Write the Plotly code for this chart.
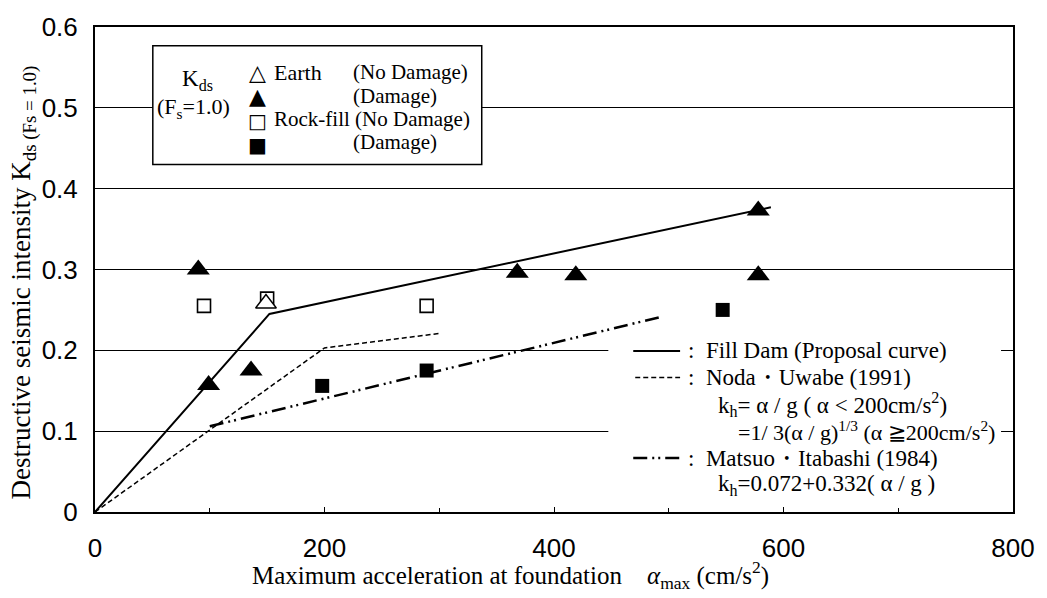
import plotly.graph_objects as go

# ---------------- data ----------------
fill_dam_x = [0, 152, 589]
fill_dam_y = [0.0, 0.245, 0.377]

noda_x = [0, 200, 301]
noda_y = [0.0, 0.203, 0.221]

matsuo_x = [100, 495]
matsuo_y = [0.106, 0.242]

earth_nodmg_x = [149]
earth_nodmg_y = [0.258]

earth_dmg_x = [90, 99, 136, 368, 419, 578, 578]
earth_dmg_y = [0.300, 0.157, 0.175, 0.296, 0.293, 0.373, 0.293]

rock_nodmg_x = [95, 150, 289]
rock_nodmg_y = [0.255, 0.264, 0.255]

rock_dmg_x = [198, 289, 547]
rock_dmg_y = [0.156, 0.175, 0.250]

x_ticks = [0, 200, 400, 600, 800]
y_ticks = [0, 0.1, 0.2, 0.3, 0.4, 0.5, 0.6]

# ---------------- layout geometry ----------------
W, H = 1047, 598
ML, MR, MT, MB = 95, 31, 18, 86
PW, PH = W - ML - MR, H - MT - MB


def px(xp):
    return (xp - ML) / PW


def py(yp):
    return (H - MB - yp) / PH


SERIF = "Liberation Serif"
SANS = "Liberation Sans"

fig = go.Figure()

fig.add_trace(go.Scatter(x=fill_dam_x, y=fill_dam_y, mode="lines",
                         line=dict(color="black", width=2), showlegend=False))
fig.add_trace(go.Scatter(x=noda_x, y=noda_y, mode="lines",
                         line=dict(color="black", width=1.5, dash="5px,3px"),
                         showlegend=False))
fig.add_trace(go.Scatter(x=matsuo_x, y=matsuo_y, mode="lines",
                         line=dict(color="black", width=2.5,
                                   dash="14px,5px,2px,4px,2px,5px"),
                         showlegend=False))

fig.add_trace(go.Scatter(x=rock_nodmg_x, y=rock_nodmg_y, mode="markers",
                         marker=dict(symbol="square", size=13, color="white",
                                     line=dict(color="black", width=1.6)),
                         showlegend=False))
fig.add_trace(go.Scatter(x=earth_nodmg_x, y=earth_nodmg_y, mode="markers",
                         marker=dict(symbol="triangle-up", size=18, color="white",
                                     line=dict(color="black", width=1.4)),
                         showlegend=False))
fig.add_trace(go.Scatter(x=earth_dmg_x, y=earth_dmg_y, mode="markers",
                         marker=dict(symbol="triangle-up", size=20, color="black",
                                     line=dict(color="black", width=0)),
                         showlegend=False))
fig.add_trace(go.Scatter(x=rock_dmg_x, y=rock_dmg_y, mode="markers",
                         marker=dict(symbol="square", size=14, color="black",
                                     line=dict(color="black", width=0)),
                         showlegend=False))

shapes = []
# legend box (top-left)
shapes.append(dict(type="rect", xref="paper", yref="paper",
                   x0=px(153), x1=px(483), y0=py(158), y1=py(37),
                   fillcolor="white", line=dict(color="black", width=1.5),
                   layer="above"))
# white area behind right-hand key
shapes.append(dict(type="rect", xref="paper", yref="paper",
                   x0=px(610), x1=px(1004), y0=py(507), y1=py(333),
                   fillcolor="white", line=dict(width=0), layer="above"))
# key line samples
key_rows = [348, 375, 402, 430, 457, 484]
shapes.append(dict(type="line", xref="paper", yref="paper",
                   x0=px(635), x1=px(682), y0=py(key_rows[0]), y1=py(key_rows[0]),
                   line=dict(color="black", width=2), layer="above"))
shapes.append(dict(type="line", xref="paper", yref="paper",
                   x0=px(637), x1=px(682), y0=py(key_rows[1]), y1=py(key_rows[1]),
                   line=dict(color="black", width=1.5, dash="5px,3px"), layer="above"))
shapes.append(dict(type="line", xref="paper", yref="paper",
                   x0=px(635), x1=px(683), y0=py(key_rows[4]), y1=py(key_rows[4]),
                   line=dict(color="black", width=2.5, dash="14px,5px,2px,4px,2px,5px"),
                   layer="above"))

ann = []


def text(x, y, s, size=21, anchor="left", family=SERIF, **kw):
    ann.append(dict(xref="paper", yref="paper", x=px(x), y=py(y), text=s,
                    showarrow=False, xanchor=anchor, yanchor="middle",
                    font=dict(family=family, size=size, color="black"), **kw))


# legend box contents
text(198, 72, "K<sub>ds</sub>", size=23, anchor="center")
text(194, 100, "(F<sub>s</sub>=1.0)", size=22, anchor="center")
text(258, 64, "△", size=22, anchor="center", family="DejaVu Sans")
text(258, 89, "▲", size=22, anchor="center", family="DejaVu Sans")
text(258, 114, "□", size=20, anchor="center", family="DejaVu Sans")
text(258, 138, "■", size=20, anchor="center", family="DejaVu Sans")
text(273, 64, "Earth", size=22)
text(352, 64, "(No Damage)")
text(352, 88, "(Damage)")
text(273, 112, "Rock-fill (No Damage)", size=21)
text(352, 135, "(Damage)")

# right-hand key
KS = 23
text(688, key_rows[0], ":  Fill Dam (Proposal curve)", size=KS)
text(688, key_rows[1], ":  Noda・Uwabe (1991)", size=KS)
text(718, key_rows[2], "k<sub>h</sub>= α / g ( α < 200cm/s<sup>2</sup>)", size=KS)
text(738, key_rows[3], "=1/ 3(α / g)<sup>1/3</sup> (α ≧200cm/s<sup>2</sup>)", size=22)
text(688, key_rows[4], ":  Matsuo・Itabashi (1984)", size=KS)
text(718, key_rows[5], "k<sub>h</sub>=0.072+0.332( α / g )", size=KS)

# axis titles
text(512, 576, "Maximum acceleration at foundation\u00a0\u00a0\u00a0\u00a0"
     "<i>α</i><sub>max</sub>\u00a0(cm/s<sup>2</sup>)", size=25, anchor="center")
ann.append(dict(xref="paper", yref="paper", x=px(23), y=py(278),
                text="Destructive seismic intensity K<sub>ds (Fs = 1.0)</sub>",
                textangle=-90, showarrow=False, xanchor="center", yanchor="middle",
                font=dict(family=SERIF, size=27, color="black")))

fig.update_layout(
    width=W, height=H,
    margin=dict(l=ML, r=MR, t=MT, b=MB, pad=0),
    paper_bgcolor="white", plot_bgcolor="white",
    shapes=shapes, annotations=ann, showlegend=False,
    xaxis=dict(range=[0, 800], tickvals=x_ticks, ticktext=[str(v) for v in x_ticks],
               showgrid=False, zeroline=False, showline=True, linecolor="black",
               linewidth=2, mirror=True, ticks="inside", ticklen=5,
               tickcolor="black", ticklabelstandoff=12,
               minor=dict(dtick=100, ticks="inside", ticklen=4, tickcolor="black"),
               tickfont=dict(family=SANS, size=26, color="black")),
    yaxis=dict(range=[0, 0.6], tickvals=y_ticks,
               ticktext=["0", "0.1", "0.2", "0.3", "0.4", "0.5", "0.6"],
               showgrid=True, gridcolor="black", gridwidth=1.2, zeroline=False,
               showline=True, linecolor="black", linewidth=2, mirror=True,
               ticks="", ticklabelstandoff=10,
               tickfont=dict(family=SANS, size=26, color="black")),
)

fig.write_html("out.html")
